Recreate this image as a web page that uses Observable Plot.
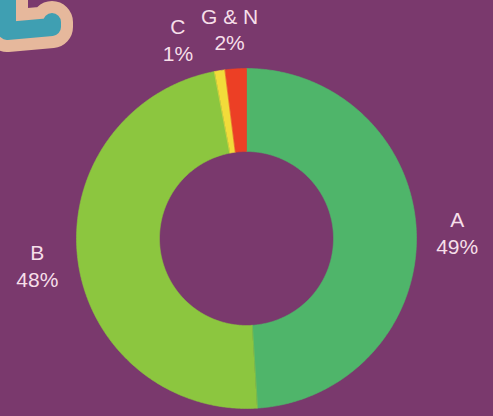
<!DOCTYPE html>
<html>
<head>
<meta charset="utf-8">
<script src="https://cdn.jsdelivr.net/npm/d3@7"></script>
<script src="https://cdn.jsdelivr.net/npm/@observablehq/plot@0.6"></script>
<style>
  html, body { margin: 0; padding: 0; background: #7a396d; }
  #wrap { position: relative; width: 493px; height: 416px; overflow: hidden; background: #7a396d; }
  #logo { position: absolute; left: 0; top: 0; }
  #chart { position: absolute; left: 0; top: 0; }
</style>
</head>
<body>
<div id="wrap">
  <div id="chart"></div>
  <svg id="logo" width="120" height="80" viewBox="0 0 120 80">
    <path d="M 7,-25 L 7,31 L 52,27 L 52,22" fill="none" stroke="#e6b89c" stroke-width="42" stroke-linejoin="round" stroke-linecap="round"/>
    <path d="M 7,-25 L 7,31 L 52,27 L 52,22" fill="none" stroke="#3f9fb2" stroke-width="18" stroke-linejoin="round" stroke-linecap="round"/>
  </svg>
</div>
<script>
// Data
const categories = ["A", "B", "C", "G & N"];
const shares = [49, 48, 1, 2];
const labels = ["A\n49%", "B\n48%", "C\n1%", "G & N\n2%"];
const colors = ["#4fb56a", "#8cc63f", "#f2dc3a", "#ec3f25"];

// Layout (pixels)
const W = 493, H = 416, CX = 246, CY = 238, R = 170, RIN = 87;
const labelRadius = 1.24;
const labelNudgeDeg = [0, 0, -10, -1];

const pie = d3.pie().sort(null).value(d => d)(shares);

// Build slice polygons in units of the outer radius
const pts = [];
pie.forEach((p, i) => {
  const a0 = p.startAngle, a1 = p.endAngle;
  const n = Math.max(2, Math.ceil((a1 - a0) / (Math.PI / 360)));
  for (let k = 0; k <= n; k++) {
    const a = a0 + (a1 - a0) * k / n;
    pts.push({key: categories[i], x: Math.sin(a), y: Math.cos(a)});
  }
  for (let k = n; k >= 0; k--) {
    const a = a0 + (a1 - a0) * k / n;
    pts.push({key: categories[i], x: (RIN / R) * Math.sin(a), y: (RIN / R) * Math.cos(a)});
  }
});

const labelData = pie.map((p, i) => {
  const a = (p.startAngle + p.endAngle) / 2 + labelNudgeDeg[i] * Math.PI / 180;
  return {text: labels[i], x: labelRadius * Math.sin(a), y: labelRadius * Math.cos(a)};
});

const chart = Plot.plot({
  width: W,
  height: H,
  margin: 0,
  style: {background: "#7a396d", fontFamily: "'Liberation Sans', Arial, sans-serif"},
  x: {domain: [-CX / R, (W - CX) / R], range: [0, W], axis: null},
  y: {domain: [-(H - CY) / R, CY / R], range: [H, 0], axis: null},
  color: {domain: categories, range: colors},
  marks: [
    Plot.line(pts, {x: "x", y: "y", z: "key", fill: "key", stroke: "key", strokeWidth: 0.6, curve: "linear-closed"}),
    Plot.text(labelData, {x: "x", y: "y", text: "text", fill: "#f6dfe9", fontSize: 21, lineHeight: 1.28, textAnchor: "middle"})
  ]
});
document.getElementById("chart").appendChild(chart);
</script>
</body>
</html>
